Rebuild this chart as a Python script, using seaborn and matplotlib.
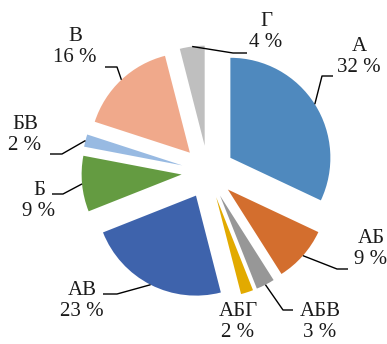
import matplotlib
matplotlib.use("Agg")
import matplotlib.pyplot as plt
import seaborn as sns
import numpy as np

# ---- data ----
categories = ["А", "АБ", "АБВ", "АБГ", "АВ", "Б", "БВ", "В", "Г"]
values = [32, 9, 3, 2, 23, 9, 2, 16, 4]
pct_labels = ["32 %", "9 %", "3 %", "2 %", "23 %", "9 %", "2 %", "16 %", "4 %"]

# ---- styling / layout ----
colors = ["#4F89BE", "#D36E2E", "#979797", "#E2AA00", "#3E63AC",
          "#649B41", "#98BAE2", "#F0A98B", "#BFBFBF"]
W, H = 387, 344
# label text centres (pixel coords, y from top)
text_pos = [(359, 57), (371, 249), (320, 322), (238, 322), (82, 301),
            (39, 201), (25, 135), (75, 47), (266, 32)]
# leader elbow and end points (pixel coords) or None
leaders = [((322, 76), (333, 76)), ((337, 269), (348, 269)),
           ((283, 310), (293, 310)), None, ((117, 294), (103, 294)),
           ((63, 194), (52, 194)), ((62, 154), (50, 154)),
           ((117, 67), (105, 67)), ((233, 53), (247, 53))]

sns.set_theme(style="white")
plt.rcParams["font.family"] = ["Liberation Serif", "DejaVu Serif"]

fig = plt.figure(figsize=(W / 100, H / 100), dpi=100)
ax = fig.add_axes([0, 0, 1, 1])
ax.set_xlim(0, W)
ax.set_ylim(0, H)
ax.set_aspect("equal")
ax.axis("off")

radius = 100
explode = [26.5] * len(values)
wedges, _ = ax.pie(values, colors=colors, startangle=90, counterclock=False,
                   radius=radius, center=(208, H - 172), explode=explode,
                   wedgeprops=dict(linewidth=0), frame=True)
ax.set_xlim(0, W)
ax.set_ylim(0, H)
ax.axis("off")

for w, cat, pl, tp, ld in zip(wedges, categories, pct_labels, text_pos, leaders):
    ax.text(tp[0], H - tp[1], f"{cat}\n{pl}", ha="center", va="center",
            fontsize=15, linespacing=1.2, color="#1a1a1a")
    if ld is not None:
        mid = np.deg2rad((w.theta1 + w.theta2) / 2)
        cx, cy = w.center
        sx = cx + w.r * np.cos(mid)
        sy = cy + w.r * np.sin(mid)
        (ex, ey), (fx, fy) = ld
        ax.plot([sx, ex, fx], [sy, H - ey, H - fy], color="black", lw=1.0,
                solid_capstyle="butt")

fig.savefig("out.png", dpi=100, facecolor="white")
